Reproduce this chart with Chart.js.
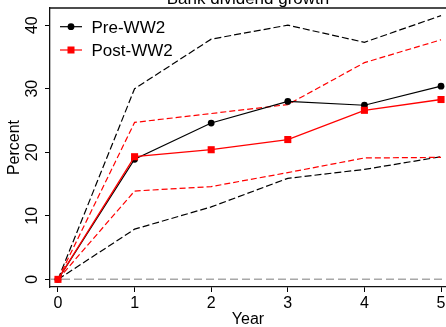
<!DOCTYPE html>
<html><head><meta charset="utf-8">
<script src="https://cdn.jsdelivr.net/npm/chart.js@4/dist/chart.umd.min.js"></script>
<style>html,body{margin:0;padding:0;background:#fff;overflow:hidden}#wrap{width:446px;height:327px;position:relative}</style>
</head><body><div id="wrap"><canvas id="c"></canvas></div>
<script>
// ---- data ----
const years = [0, 1, 2, 3, 4, 5];
const preWW2 = [0, 18.9, 24.6, 28.0, 27.4, 30.4];
const postWW2 = [0, 19.3, 20.4, 22.0, 26.6, 28.3];
const preUpper = [0, 30.0, 37.8, 40.0, 37.3, 41.5];
const preLower = [0, 7.9, 11.4, 15.9, 17.3, 19.3];
const postUpper = [0, 24.7, 26.1, 27.5, 34.1, 37.7];
const postLower = [0, 13.9, 14.6, 16.8, 19.1, 19.2];
const yTicks = [0, 10, 20, 30, 40];
const xTicks = [0, 1, 2, 3, 4, 5];
const seriesNames = ['Pre-WW2', 'Post-WW2'];
const chartTitle = 'Bank dividend growth';
const xTitle = 'Year';
const yTitle = 'Percent';

const FONT = "'Liberation Sans', Arial, Helvetica, sans-serif";
const pts = arr => years.map((x, i) => ({x, y: arr[i]}));

const overlay = {
  id: 'overlay',
  beforeDatasetsDraw(chart) {
    const {ctx, chartArea: a, scales: {y}} = chart;
    const py = y.getPixelForValue(0);
    ctx.save();
    ctx.strokeStyle = '#a8a8a8'; ctx.lineWidth = 1.5; ctx.setLineDash([8, 4]);
    ctx.beginPath(); ctx.moveTo(a.left, py); ctx.lineTo(a.right, py); ctx.stroke();
    ctx.restore();
  },
  afterDraw(chart) {
    const {ctx, chartArea: a, scales: {y}} = chart;
    ctx.save();
    ctx.strokeStyle = '#111'; ctx.lineWidth = 1.3;
    ctx.beginPath(); ctx.moveTo(a.left, a.top); ctx.lineTo(a.right, a.top); ctx.stroke();
    // rotated y tick labels
    ctx.fillStyle = '#000'; ctx.font = '16px ' + FONT; ctx.textAlign = 'center'; ctx.textBaseline = 'middle';
    yTicks.forEach(v => {
      const py = y.getPixelForValue(v);
      ctx.save(); ctx.translate(33, py); ctx.rotate(-Math.PI / 2); ctx.fillText(String(v), 0, 0); ctx.restore();
    });
    // title (cut off at top)
    ctx.font = '17px ' + FONT; ctx.textBaseline = 'alphabetic'; ctx.textAlign = 'center';
    ctx.fillText(chartTitle, (a.left + a.right) / 2, 4);
    // legend
    const items = [
      {name: seriesNames[0], color: '#000', shape: 'circle', y: 26.7},
      {name: seriesNames[1], color: '#ff0000', shape: 'rect', y: 50}
    ];
    items.forEach(it => {
      ctx.strokeStyle = it.color; ctx.fillStyle = it.color; ctx.lineWidth = 1.2; ctx.setLineDash([]);
      ctx.beginPath(); ctx.moveTo(60, it.y); ctx.lineTo(82, it.y); ctx.stroke();
      if (it.shape === 'circle') { ctx.beginPath(); ctx.arc(71, it.y, 3.4, 0, Math.PI * 2); ctx.fill(); }
      else { ctx.fillRect(71 - 3.5, it.y - 3.5, 7, 7); }
      ctx.fillStyle = '#000'; ctx.font = '17px ' + FONT; ctx.textAlign = 'left'; ctx.textBaseline = 'alphabetic';
      ctx.fillText(it.name, 91.5, it.y + 5.8);
    });
    ctx.restore();
  }
};

const dashed = (arr, color, dash, order) => ({
  data: pts(arr), borderColor: color, borderWidth: 1.2, borderDash: dash,
  pointRadius: 0, fill: false, tension: 0, order
});

new Chart(document.getElementById('c'), {
  type: 'line',
  data: {
    datasets: [
      {label: seriesNames[1], data: pts(postWW2), borderColor: '#ff0000', backgroundColor: '#ff0000',
       borderWidth: 1.3, pointStyle: 'rect', pointRadius: 5, pointBorderWidth: 0, order: 1, tension: 0, clip: false},
      {label: seriesNames[0], data: pts(preWW2), borderColor: '#000', backgroundColor: '#000',
       borderWidth: 1.2, pointStyle: 'circle', pointRadius: 3.4, pointBorderWidth: 0, order: 2, tension: 0, clip: false},
      dashed(postUpper, '#ff0000', [6, 3], 3),
      dashed(postLower, '#ff0000', [6, 3], 3),
      dashed(preUpper, '#000', [7, 3], 4),
      dashed(preLower, '#000', [7, 3], 4)
    ]
  },
  options: {
    responsive: true, maintainAspectRatio: false, animation: false,
    layout: {autoPadding: false, padding: {top: 8, right: 0, bottom: 0, left: 0}},
    plugins: {legend: {display: false}, tooltip: {enabled: false}, title: {display: false}},
    scales: {
      x: {
        type: 'linear', min: -0.104, max: 5.065,
        afterBuildTicks: s => { s.ticks = xTicks.map(v => ({value: v})); },
        afterFit: s => { s.height = 40; s.paddingLeft = 0; s.paddingRight = 0; },
        grid: {drawOnChartArea: false, drawTicks: true, tickLength: 5, color: '#000', lineWidth: 1},
        border: {display: true, color: '#111', width: 1.3},
        ticks: {color: '#000', font: {family: FONT, size: 16}, padding: 2, maxRotation: 0},
        title: {display: true, text: xTitle, color: '#000', font: {family: FONT, size: 16}, padding: {top: 0, bottom: -2.1}}
      },
      y: {
        type: 'linear', min: -1.2, max: 42.7,
        afterBuildTicks: s => { s.ticks = yTicks.map(v => ({value: v})); },
        afterFit: s => { s.width = 50; s.paddingTop = 0; s.paddingBottom = 0; },
        grid: {drawOnChartArea: false, drawTicks: true, tickLength: 5, color: '#000', lineWidth: 1},
        border: {display: true, color: '#111', width: 1.3},
        ticks: {display: false},
        title: {display: true, text: yTitle, color: '#000', font: {family: FONT, size: 16}, padding: {top: 5, bottom: 0}}
      }
    }
  },
  plugins: [overlay]
});
</script></body></html>
